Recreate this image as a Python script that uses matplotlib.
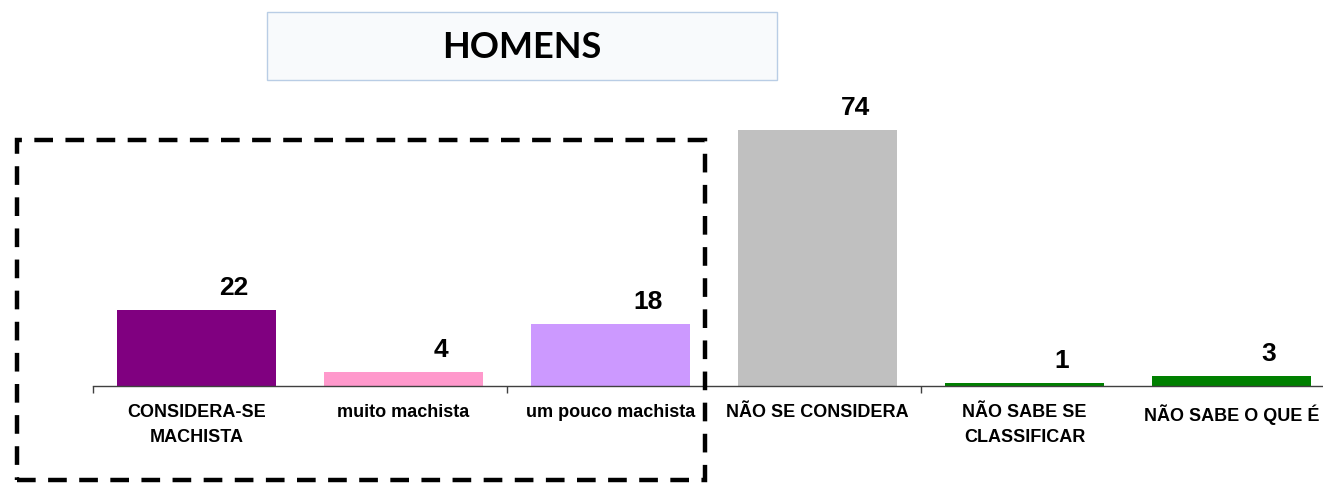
import matplotlib.pyplot as plt
from matplotlib.patches import Rectangle

categories = ['CONSIDERA-SE\nMACHISTA', 'muito machista', 'um pouco machista',
              'NÃO SE CONSIDERA', 'NÃO SABE SE\nCLASSIFICAR', 'NÃO SABE O QUE É']
values = [22, 4, 18, 74, 1, 3]
colors = ['#800080', '#FF99CC', '#CC99FF', '#C0C0C0', '#008000', '#008000']

fig = plt.figure(figsize=(13.23, 4.83), dpi=100)
W, H = 1323, 483

ax = fig.add_axes([93 / W, 97 / H, 1242 / W, 277 / H])
x = list(range(len(values)))
ax.bar(x, values, width=0.77, color=colors)
ax.set_xlim(-0.5, len(values) - 0.5)
ax.set_ylim(0, 80)

for sp in ['top', 'right', 'left']:
    ax.spines[sp].set_visible(False)
ax.spines['bottom'].set_color('#404040')
ax.spines['bottom'].set_linewidth(1.0)
ax.set_yticks([])

ax.set_xticks(x)
ax.set_xticklabels(categories, fontfamily='Liberation Sans', fontweight='bold', fontsize=13,
                   linespacing=1.6)
ax.tick_params(axis='x', which='major', length=0, pad=13)
ax.set_xticks([-0.5, 1.5, 3.5, 5.5], minor=True)
ax.tick_params(axis='x', which='minor', length=5, width=1, color='#404040', direction='out')

for i, v in enumerate(values):
    ax.annotate(str(v), (i, v), xytext=(27, 7), textcoords='offset points',
                ha='center', va='bottom', fontfamily='Liberation Sans', fontweight='bold', fontsize=19)

# title box
fig.patches.append(Rectangle((267 / W, 1 - 80 / H), 510 / W, 68 / H, transform=fig.transFigure,
                             facecolor='#F8FAFC', edgecolor='#B9CDE5', linewidth=1.0))
fig.text(522 / W, 1 - 47 / H, 'HOMENS', ha='center', va='center',
         fontfamily='Lato', fontweight='bold', fontsize=26)

# dashed box around the "considera-se" group
fig.patches.append(Rectangle((17 / W, 1 - 480 / H), 688 / W, 340 / H, transform=fig.transFigure,
                             facecolor='none', edgecolor='black', linewidth=3.2,
                             linestyle=(0, (4.2, 2.8)), clip_on=False))

fig.savefig('out.png', dpi=100)
